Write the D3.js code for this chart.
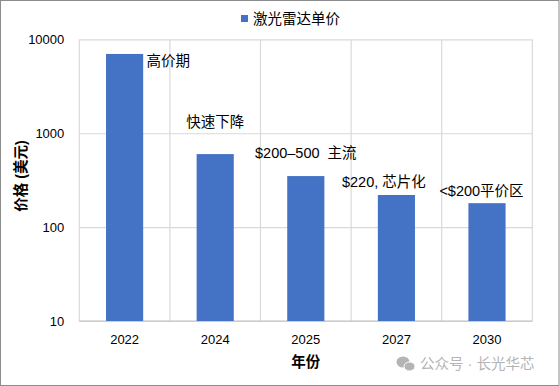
<!DOCTYPE html>
<html>
<head>
<meta charset="utf-8">
<script src="https://cdn.jsdelivr.net/npm/d3@7"></script>
<style>
  html, body { margin: 0; padding: 0; background: #fff; }
  svg { display: block; }
  text { font-family: "Liberation Sans", "Noto Sans CJK SC", sans-serif; }
</style>
</head>
<body>
<div id="chart"></div>
<script>
// ---- data ----
const years = ["2022", "2024", "2025", "2027", "2030"];
const prices = [7000, 600, 350, 220, 180];
const annotations = ["高价期", "快速下降", "$200–500  主流", "$220, 芯片化", "<$200平价区"];
const yTicks = [10, 100, 1000, 10000];
const seriesName = "激光雷达单价";
const yTitle = "价格 (美元)";
const xTitle = "年份";
const watermark = "公众号 · 长光华芯";

// ---- layout ----
const W = 560, H = 386;
const plot = { left: 79.3, right: 532.3, top: 39.4, bottom: 321 };
const barColor = "#4472C4";
const gridColor = "#d9d9d9";
// annotation offsets relative to bar center / bar top (dx, dy, anchor)
const annLayout = [
  { dx: 22, dy: 7, anchor: "start" },
  { dx: 0, dy: -32, anchor: "middle" },
  { dx: 0, dy: -23, anchor: "middle" },
  { dx: -12.5, dy: -13, anchor: "middle" },
  { dx: -5.5, dy: -12, anchor: "middle" }
];

const svg = d3.select("#chart").append("svg")
  .attr("width", W).attr("height", H);

svg.append("rect").attr("x", 0.5).attr("y", 0.5)
  .attr("width", W - 1.5).attr("height", H - 1)
  .attr("fill", "#fff").attr("stroke", "#8c8c8c");

const x = d3.scaleBand().domain(years)
  .range([plot.left, plot.right]).paddingInner(0.59).paddingOuter(0.295);
const y = d3.scaleLog().domain([10, 10000]).range([plot.bottom, plot.top]);
const step = x.step();

// horizontal gridlines
const yAxis = d3.axisLeft(y).tickValues(yTicks).tickFormat(d3.format("d"))
  .tickSize(-(plot.right - plot.left)).tickPadding(15);
const gy = svg.append("g").attr("transform", `translate(${plot.left},0)`).call(yAxis);
gy.select(".domain").remove();
gy.selectAll(".tick line").attr("stroke", gridColor).attr("stroke-width", 1.2);
gy.selectAll(".tick text").attr("font-size", "13px").attr("fill", "#000");

// vertical gridlines at category boundaries
const bounds = d3.range(years.length + 1).map(i => x.range()[0] + i * step);
svg.append("g").selectAll("line").data(bounds).join("line")
  .attr("x1", d => d).attr("x2", d => d)
  .attr("y1", plot.top).attr("y2", plot.bottom)
  .attr("stroke", gridColor).attr("stroke-width", 1.2);

// x axis
const xAxis = d3.axisBottom(x).tickSize(0).tickPadding(14);
const gx = svg.append("g").attr("transform", `translate(0,${plot.bottom})`).call(xAxis);
gx.select(".domain").attr("stroke", "#bfbfbf").attr("stroke-width", 1.2)
  .attr("d", `M${plot.left},0H${plot.right}`);
gx.selectAll(".tick text").attr("font-size", "13px").attr("fill", "#000");

// bars
svg.append("g").selectAll("rect").data(years).join("rect")
  .attr("x", d => x(d))
  .attr("width", x.bandwidth())
  .attr("y", (d, i) => y(prices[i]))
  .attr("height", (d, i) => plot.bottom - y(prices[i]))
  .attr("fill", barColor);

// annotations
svg.append("g").selectAll("text").data(annotations).join("text")
  .attr("x", (d, i) => x(years[i]) + x.bandwidth() / 2 + annLayout[i].dx)
  .attr("y", (d, i) => y(prices[i]) + annLayout[i].dy)
  .attr("dy", "0.35em")
  .attr("text-anchor", (d, i) => annLayout[i].anchor)
  .attr("font-size", "14.5px")
  .attr("fill", "#000")
  .style("white-space", "pre")
  .text(d => d);

// legend
const lg = svg.append("g");
lg.append("rect").attr("x", 241).attr("y", 15).attr("width", 7).attr("height", 7).attr("fill", barColor);
lg.append("text").attr("x", 253).attr("y", 18.5).attr("dy", "0.35em")
  .attr("font-size", "14.5px").attr("fill", "#000").text(seriesName);

// axis titles
svg.append("text")
  .attr("transform", "translate(21,176) rotate(-90)")
  .attr("text-anchor", "middle").attr("dy", "0.35em")
  .attr("font-size", "14.5px").attr("font-weight", "bold").attr("fill", "#000")
  .text(yTitle);
svg.append("text")
  .attr("x", (plot.left + plot.right) / 2).attr("y", 362).attr("dy", "0.35em")
  .attr("text-anchor", "middle")
  .attr("font-size", "14.5px").attr("font-weight", "bold").attr("fill", "#000")
  .text(xTitle);

// watermark
const wm = svg.append("g").attr("fill", "#b4b4b4");
wm.append("ellipse").attr("cx", 403).attr("cy", 362).attr("rx", 6.5).attr("ry", 5.5);
wm.append("ellipse").attr("cx", 409.5).attr("cy", 366.5).attr("rx", 5.5).attr("ry", 4.5)
  .attr("stroke", "#fff").attr("stroke-width", 1);
wm.append("text").attr("x", 420).attr("y", 364).attr("dy", "0.35em")
  .attr("font-size", "14.5px").text(watermark);
</script>
</body>
</html>
